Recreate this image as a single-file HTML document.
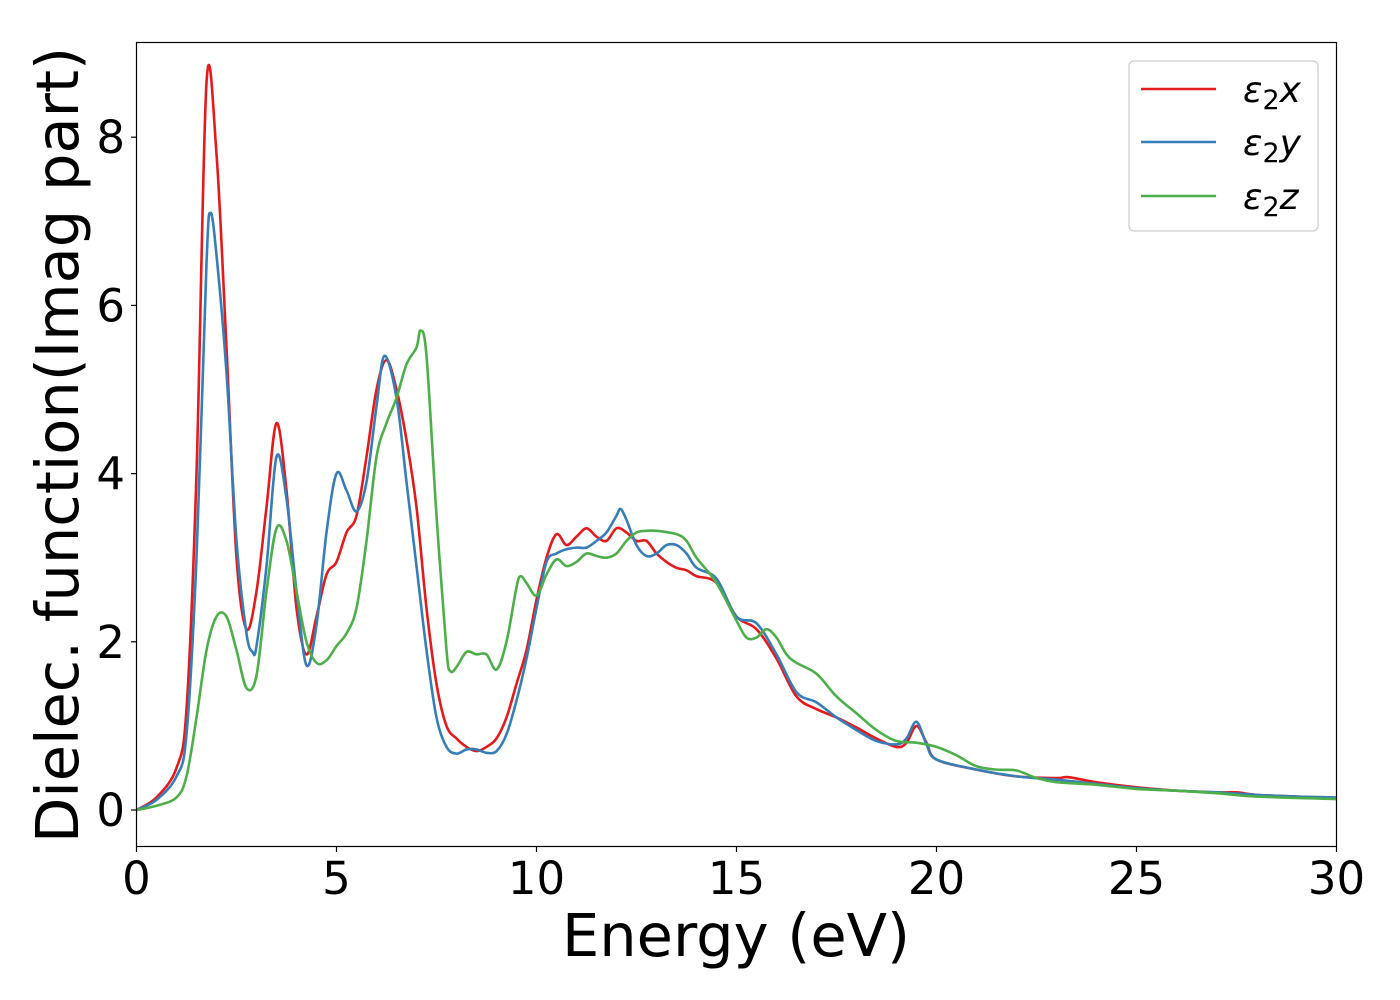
<!DOCTYPE html>
<html><head><meta charset="utf-8"><style>
body{margin:0;background:#fff;}
svg{display:block;font-family:"DejaVu Sans","Liberation Sans",sans-serif;}
</style></head><body>
<svg id="chart" width="1400" height="1000" viewBox="0 0 1400 1000">
<g id="ticks"></g>
<g id="plot"></g>
<rect x="136.5" y="42.5" width="1200" height="804" fill="none" stroke="#000" stroke-width="1.2"/>
<text transform="translate(78,445) rotate(-90)" text-anchor="middle" font-size="59">Dielec. function(Imag part)</text>
<text x="736" y="956" text-anchor="middle" font-size="59">Energy (eV)</text>
<g>
<rect x="1129" y="61" width="189" height="170" rx="5" fill="#fff" stroke="#ccc" stroke-width="1.2"/>
<line x1="1141" y1="89" x2="1216" y2="89" stroke="#e41a1c" stroke-width="2.5"/>
<line x1="1141" y1="142" x2="1216" y2="142" stroke="#377eb8" stroke-width="2.5"/>
<line x1="1141" y1="196" x2="1216" y2="196" stroke="#4daf4a" stroke-width="2.5"/>
<text x="1243" y="102" font-size="36" font-style="italic">ε<tspan font-style="normal" font-size="27" dy="7">2</tspan><tspan dy="-7">x</tspan></text>
<text x="1243" y="155" font-size="36" font-style="italic">ε<tspan font-style="normal" font-size="27" dy="7">2</tspan><tspan dy="-7">y</tspan></text>
<text x="1243" y="209" font-size="36" font-style="italic">ε<tspan font-style="normal" font-size="27" dy="7">2</tspan><tspan dy="-7">z</tspan></text>
</g>
</svg>
<script>
const xTicks=[0,5,10,15,20,25,30];
const yTicks=[0,2,4,6,8];
const xE=[0,0.5,1,1.25,1.5,1.75,2,2.25,2.5,2.75,3,3.25,3.5,3.75,4,4.25,4.5,4.75,5,5.25,5.5,5.75,6,6.25,6.5,6.75,7,7.25,7.5,7.75,8,8.25,8.5,8.75,9,9.25,9.5,9.75,10,10.25,10.5,10.75,11,11.25,11.5,11.75,12,12.25,12.5,12.75,13,13.25,13.5,13.75,14,14.5,15,15.5,16,16.5,17,17.5,18,18.5,19,19.25,19.5,19.75,20,21,22,23,23.3,24,25,26,27,27.5,28,29,30];
const xV=[0,0.15,0.5,1.2,4.0,8.65,7.8,5.5,3.0,2.15,2.6,3.6,4.6,3.8,2.4,1.85,2.3,2.8,2.95,3.3,3.5,4.2,5.0,5.35,5.0,4.4,3.6,2.4,1.5,1.0,0.85,0.75,0.7,0.75,0.85,1.1,1.5,1.9,2.5,3.0,3.28,3.15,3.25,3.35,3.25,3.2,3.35,3.3,3.2,3.2,3.05,2.95,2.88,2.85,2.78,2.7,2.3,2.15,1.8,1.35,1.2,1.1,0.98,0.85,0.75,0.8,1.0,0.8,0.6,0.48,0.4,0.38,0.39,0.33,0.27,0.23,0.21,0.21,0.18,0.16,0.14];
const yE=[0,0.5,1,1.25,1.5,1.75,1.85,2,2.25,2.5,2.75,2.9,3,3.25,3.5,3.75,4,4.25,4.5,4.75,5,5.25,5.5,5.75,6,6.2,6.5,6.75,7,7.25,7.5,7.75,8,8.25,8.5,8.75,9,9.25,9.5,9.75,10,10.25,10.5,10.75,11,11.25,11.5,11.75,12,12.1,12.25,12.5,12.75,13,13.25,13.5,13.75,14,14.5,15,15.5,16,16.5,17,17.5,18,18.5,19,19.25,19.5,19.75,20,21,22,23,24,25,26,27,28,29,30];
const yV=[0,0.12,0.4,0.9,3.0,6.5,7.1,6.6,5.2,3.2,2.1,1.88,1.95,2.9,4.2,3.7,2.6,1.72,2.2,3.3,4.0,3.8,3.55,3.9,4.8,5.4,4.9,3.9,2.9,1.9,1.1,0.75,0.67,0.72,0.72,0.68,0.7,0.9,1.3,1.8,2.4,2.95,3.05,3.1,3.12,3.12,3.2,3.3,3.5,3.58,3.45,3.15,3.02,3.05,3.15,3.15,3.05,2.88,2.75,2.3,2.22,1.85,1.4,1.28,1.1,0.95,0.82,0.78,0.85,1.05,0.78,0.6,0.48,0.4,0.36,0.31,0.26,0.23,0.21,0.18,0.16,0.15];
const zE=[0,0.5,1,1.25,1.5,1.75,2,2.25,2.5,2.75,3,3.25,3.5,3.75,4,4.25,4.5,4.75,5,5.25,5.5,5.75,6,6.25,6.5,6.75,7,7.1,7.25,7.5,7.75,7.85,8,8.25,8.5,8.75,9,9.25,9.5,9.6,9.75,10,10.25,10.5,10.75,11,11.25,11.5,11.75,12,12.25,12.5,12.75,13,13.5,13.75,14,14.5,15,15.25,15.5,15.75,16,16.25,16.5,17,17.5,18,18.5,19,19.5,20,20.5,21,21.5,22,22.5,23,24,25,26,27,28,30];
const zV=[0,0.05,0.15,0.4,1.1,1.9,2.3,2.3,1.9,1.45,1.6,2.6,3.35,3.2,2.6,2.0,1.75,1.78,1.95,2.1,2.4,3.2,4.2,4.6,4.9,5.3,5.5,5.7,5.4,3.5,1.9,1.65,1.7,1.88,1.85,1.85,1.67,2.0,2.65,2.78,2.7,2.55,2.8,2.98,2.9,2.95,3.05,3.02,3.0,3.05,3.2,3.3,3.32,3.32,3.28,3.2,3.0,2.7,2.25,2.05,2.05,2.15,2.05,1.85,1.75,1.62,1.35,1.15,0.95,0.82,0.8,0.75,0.65,0.52,0.48,0.47,0.38,0.33,0.3,0.25,0.23,0.2,0.16,0.13];

const X0=136.5,X1=1336.5,XMIN=0,XMAX=30;
const Y0=810,YPER=84.1;
function sx(v){return X0+(v-XMIN)/(XMAX-XMIN)*(X1-X0);}
function sy(v){return Y0-v*YPER;}
const NS='http://www.w3.org/2000/svg';
const ticks=document.getElementById('ticks');
const plot=document.getElementById('plot');
xTicks.forEach(t=>{
  const l=document.createElementNS(NS,'line');
  
  
  l.setAttribute('x1',sx(t));l.setAttribute('x2',sx(t));l.setAttribute('y1',846.5);l.setAttribute('y2',852);l.setAttribute('stroke','#000');l.setAttribute('stroke-width','1.2');
  ticks.appendChild(l);
  const tx=document.createElementNS(NS,'text');
  
  
  tx.setAttribute('x',sx(t));tx.setAttribute('y',894);tx.setAttribute('text-anchor','middle');tx.setAttribute('font-size','45');
  tx.textContent=t;ticks.appendChild(tx);
});
yTicks.forEach(t=>{
  const l=document.createElementNS(NS,'line');
  
  
  l.setAttribute('x1',131);l.setAttribute('x2',136.5);l.setAttribute('y1',sy(t));l.setAttribute('y2',sy(t));l.setAttribute('stroke','#000');l.setAttribute('stroke-width','1.2');
  ticks.appendChild(l);
  const tx=document.createElementNS(NS,'text');
  
  
  tx.setAttribute('x',125);tx.setAttribute('y',sy(t)+16);tx.setAttribute('text-anchor','end');tx.setAttribute('font-size','45');
  tx.textContent=t;ticks.appendChild(tx);
});
function pathFor(E,V){
  const p=E.map((e,i)=>[sx(e),sy(V[i])]);
  let d='M'+p[0][0]+','+p[0][1];
  for(let i=0;i<p.length-1;i++){
    const a=p[Math.max(0,i-1)],b=p[i],c=p[i+1],n=p[Math.min(p.length-1,i+2)];
    const c1=[b[0]+(c[0]-a[0])/6,b[1]+(c[1]-a[1])/6];
    const c2=[c[0]-(n[0]-b[0])/6,c[1]-(n[1]-b[1])/6];
    d+=' C'+c1[0]+','+c1[1]+' '+c2[0]+','+c2[1]+' '+c[0]+','+c[1];
  }
  return d;
}
[[xE,xV,'#e41a1c','series-eps2-x'],[yE,yV,'#377eb8','series-eps2-y'],[zE,zV,'#4daf4a','series-eps2-z']].forEach(s=>{
  const pa=document.createElementNS(NS,'path');
  
  
  pa.setAttribute('d',pathFor(s[0],s[1]));
  pa.setAttribute('fill','none');pa.setAttribute('stroke',s[2]);pa.setAttribute('stroke-width','2.6');pa.setAttribute('stroke-linejoin','round');
  plot.appendChild(pa);
});
</script>
</body></html>
